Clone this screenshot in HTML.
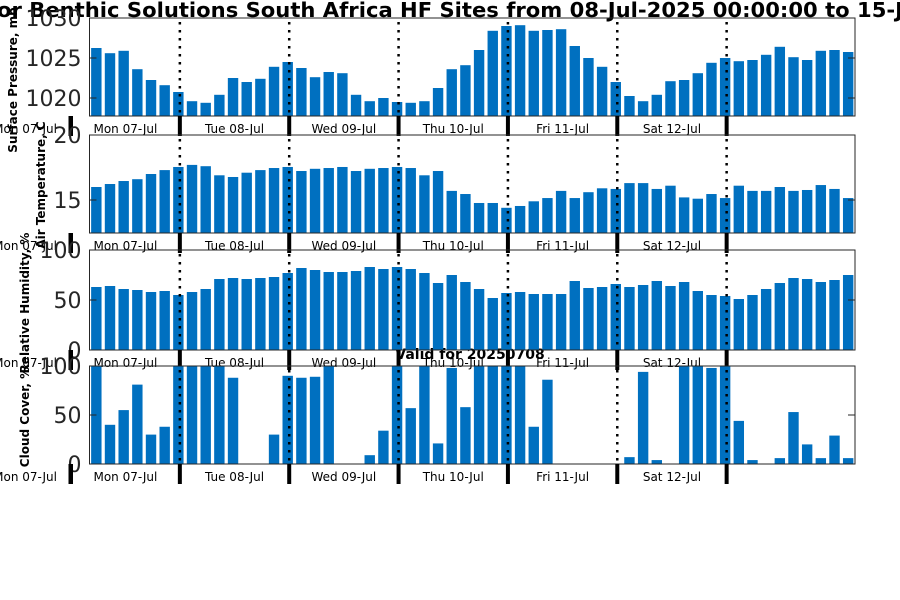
<!DOCTYPE html>
<html><head><meta charset="utf-8"><style>
html,body{margin:0;padding:0;background:#fff;}
svg{display:block;font-family:"DejaVu Sans","Liberation Sans",sans-serif;}
</style></head><body>
<svg id="chart" width="900" height="600" viewBox="0 0 900 600">
<text x="-3" y="17" font-size="20" font-weight="bold" textLength="906" lengthAdjust="spacingAndGlyphs">or Benthic Solutions South Africa HF Sites from 08-Jul-2025 00:00:00 to 15-J</text>
<text x="470" y="359" font-size="14" font-weight="bold" text-anchor="middle">Valid for 20250708</text>
<g id="plots"></g>
</svg>
<script>
const dayLabels = ["Mon 07-Jul","Tue 08-Jul","Wed 09-Jul","Thu 10-Jul","Fri 11-Jul","Sat 12-Jul"];
const pressure = [1026.25,1025.6,1025.9,1023.6,1022.25,1021.6,1020.75,1019.6,1019.4,1020.4,1022.5,1022,1022.4,1023.9,1024.5,1023.75,1022.6,1023.25,1023.1,1020.4,1019.6,1020,1019.5,1019.4,1019.6,1021.25,1023.6,1024.1,1026,1028.4,1029,1029.1,1028.4,1028.5,1028.6,1026.5,1025,1023.9,1022,1020.25,1019.6,1020.4,1022.1,1022.25,1023.1,1024.4,1025,1024.6,1024.75,1025.4,1026.4,1025.1,1024.75,1025.9,1026,1025.75];
const temperature = [16.0,16.23,16.46,16.6,17.0,17.3,17.54,17.7,17.6,16.9,16.77,17.1,17.3,17.46,17.54,17.23,17.4,17.46,17.54,17.23,17.4,17.46,17.54,17.46,16.9,17.23,15.7,15.46,14.77,14.77,14.4,14.54,14.9,15.15,15.7,15.15,15.6,15.9,15.85,16.3,16.3,15.85,16.1,15.2,15.1,15.46,15.15,16.1,15.7,15.7,16.0,15.7,15.77,16.15,15.85,15.15];
const humidity = [63,64,61,60,58,59,55,58,61,71,72,71,72,73,77,82,80,78,78,79,83,81,83,81,77,67,75,68,61,52,57,58,56,56,56,69,62,63,66,63,65,69,64,68,59,55,54,51,55,61,67,72,71,68,70,75];
const cloud = [100,40,55,81,30,38,100,100,100,100,88,0,0,30,90,88,89,100,0,0,9,34,100,57,100,21,98,58,100,100,100,100,38,86,0,0,0,0,0,7,94,4,0,100,100,98,100,44,4,0,6,53,20,6,29,6];
const pTicks = [1020,1025,1030];
const tTicks = [15,20];
const pctTicks = [0,50,100];

const NS = "http://www.w3.org/2000/svg";
const root = document.getElementById("plots");
const AX_L = 89.5, AX_R = 855, N = 56;
const step = (AX_R - AX_L) / N;
function xPos(i){ return AX_L + (i + 0.5) * step; }
const dayStep = step * 8;
function dayX(d){ return xPos(6) + 1.5 + (d - 1) * dayStep; } // d=1 -> Tue 00:00
function mk(tag, attrs, parent){
  const e = document.createElementNS(NS, tag);
  for (const k in attrs) e.setAttribute(k, attrs[k]);
  (parent || root).appendChild(e);
  return e;
}
const panels = [
  {name:"pressure", data:pressure, top:18, bottom:116, ymin:1017.75, ymax:1030, ticks:pTicks, label:"Surface Pressure, mb", lx:13, ly:80},
  {name:"temperature", data:temperature, top:135, bottom:233, ymin:20-98/13, ymax:20, ticks:tTicks, label:"Air Temperature, C", lx:41, ly:185},
  {name:"humidity", data:humidity, top:250, bottom:350, ymin:0, ymax:100, ticks:pctTicks, label:"Relative Humidity, %", lx:25, ly:303},
  {name:"cloud", data:cloud, top:366, bottom:464, ymin:0, ymax:100, ticks:pctTicks, label:"Cloud Cover, %", lx:25, ly:417}
];
panels.forEach(p => {
  const g = mk("g", {});
  
  
  const y = v => p.bottom - (v - p.ymin) / (p.ymax - p.ymin) * (p.bottom - p.top);
  p.data.forEach((v, i) => {
    const yt = Math.max(p.top, y(v));
    const r = mk("rect", {x: xPos(i) - 5.2, y: yt, width: 10.4, height: Math.max(0, p.bottom - yt), fill: "#0070c0"}, g);
    
    
  });
  for (let d = 1; d <= 6; d++) {
    const l = mk("line", {x1: dayX(d), x2: dayX(d), y1: p.top + 4, y2: p.bottom, stroke: "#000", "stroke-width": 2.5, "stroke-dasharray": "2.5,5.5"}, g);
    
    
  }
  const fr = mk("rect", {x: AX_L, y: p.top, width: AX_R - AX_L, height: p.bottom - p.top, fill: "none", stroke: "#262626", "stroke-width": 1}, g);
  
  
  p.ticks.forEach(t => {
    const ty = y(t);
    mk("line", {x1: AX_L, x2: AX_L + 7, y1: ty, y2: ty, stroke: "#262626"}, g);
    mk("line", {x1: AX_R - 7, x2: AX_R, y1: ty, y2: ty, stroke: "#262626"}, g);
    const tx = mk("text", {x: AX_L - 8, y: ty + 8, "font-size": 22, fill: "#262626", "text-anchor": "end"}, g);
    
    
    tx.textContent = t;
  });
  for (let d = 0; d <= 6; d++) {
    const x = dayX(d);
    const tk = mk("line", {x1: x, x2: x, y1: p.bottom, y2: p.bottom + 20, stroke: "#000", "stroke-width": 4}, g);
    
    
  }
  const ll = mk("line", {x1: 71, x2: 71, y1: p.bottom, y2: p.bottom + 20, stroke: "#000", "stroke-width": 4}, g);
  
  
  const lt = mk("text", {x: 57, y: p.bottom + 17, "font-size": 12, "text-anchor": "end", fill: "#000"}, g);
  
  
  lt.textContent = dayLabels[0];
  dayLabels.forEach((s, d) => {
    const cx = d === 0 ? (71 + dayX(1)) / 2 : (dayX(d) + dayX(d + 1)) / 2;
    const t = mk("text", {x: cx, y: p.bottom + 17, "font-size": 12, "text-anchor": "middle", fill: "#000"}, g);
    
    
    t.textContent = s;
  });
  const yl = mk("text", {x: p.lx, y: p.ly, "font-size": 12, "font-weight": "bold", "text-anchor": "middle", transform: `rotate(-90 ${p.lx} ${p.ly})`, fill: "#000", dy: "4"}, g);
  
  
  yl.textContent = p.label;
});
</script>
</body></html>
